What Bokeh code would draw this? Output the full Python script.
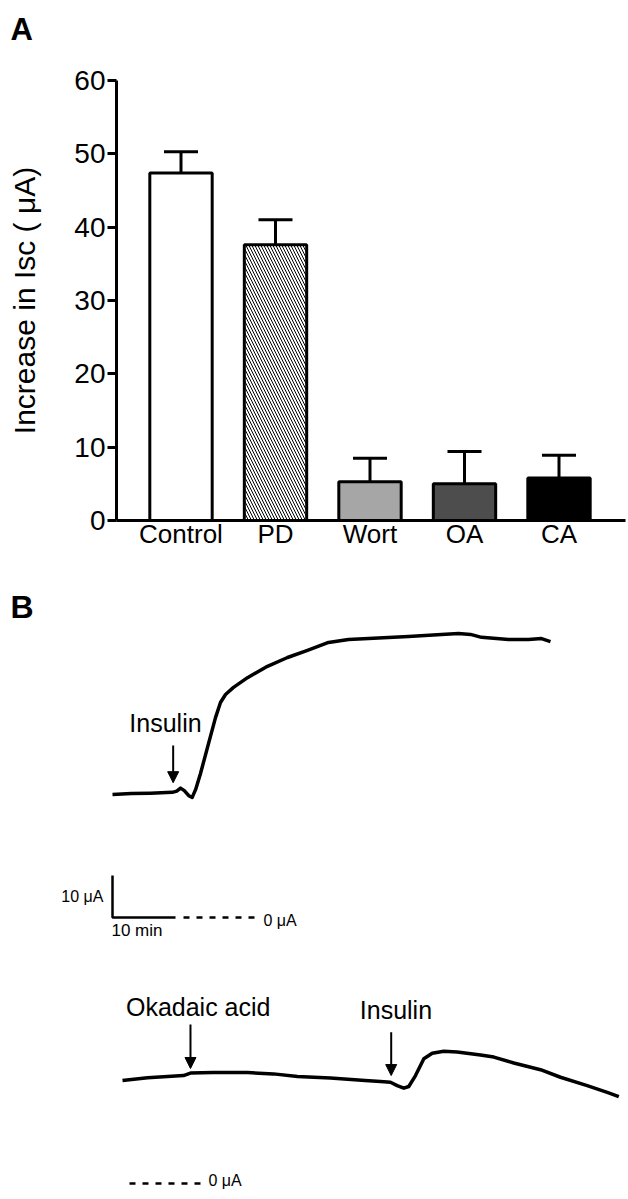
from bokeh.plotting import figure
from bokeh.layouts import column
from bokeh.models import Range1d, FixedTicker, Label, Arrow, NormalHead, ColumnDataSource
from bokeh.embed import file_html
from bokeh.resources import INLINE

FONT = "Liberation Sans"

# ---------------- Panel A data ----------------
categories = ["Control", "PD", "Wort", "OA", "CA"]
means = [47.4, 37.6, 5.3, 5.0, 5.8]
sems = [2.9, 3.4, 3.2, 4.4, 3.1]
bar_colors = ["#ffffff", "#ffffff", "#a6a6a6", "#4d4d4d", "#000000"]
bar_hatch = [" ", "\\", " ", " ", " "]
y_ticks = [0, 10, 20, 30, 40, 50, 60]

# ---------------- Panel B data ----------------
# top trace: insulin alone (time in min, current in uA)
t_top = [0, 3, 6, 9.5, 10.2, 10.8, 11.4, 12.1, 12.65, 13.2, 13.97, 15.24, 16.35,
         17.14, 17.94, 19.21, 21.43, 24.6, 27.78, 30.95, 34.29, 37.46, 40.63,
         46.98, 52.22, 54.92, 56.83, 58.57, 62.86, 66.03, 68.1, 69.52]
i_top = [29.3, 29.5, 29.6, 29.8, 30.1, 30.8, 30.2, 29.0, 28.6, 30.5, 34.3, 41.4, 47.6,
         51.2, 53.1, 54.8, 57.1, 59.8, 61.9, 63.6, 65.5, 66.2, 66.4,
         66.9, 67.4, 67.6, 67.4, 66.7, 66.2, 66.2, 66.4, 65.7]
# bottom trace: okadaic acid then insulin
t_bot = [0, 3.97, 7.14, 9.68, 10.79, 14.44, 19.84, 23.97, 27.78, 33.0, 38.5, 40.95,
         42.54, 43.6, 44.65, 45.44, 46.51, 47.83, 49.16, 51.0, 53.13, 56.83, 58.94,
         62.11, 66.35, 69.52, 73.76, 76.94, 78.78]
i_bot = [24.5, 25.2, 25.5, 25.7, 26.3, 26.4, 26.4, 26.1, 25.5, 25.1, 24.5, 24.3,
         24.1, 23.3, 22.7, 23.1, 25.7, 29.7, 31.0, 31.5, 31.3, 30.6, 30.1,
         28.7, 27.1, 25.3, 23.3, 21.7, 20.7]
scale_uA = 10
scale_min = 10

W = 628
HEAD_H = 58


def lab(p, x, y, text, size, align="left", bold=False):
    p.add_layout(Label(x=x, y=y, text=text, text_font=FONT, text_font_size=size,
                       text_align=align, text_baseline="middle",
                       text_font_style="bold" if bold else "normal", text_color="black"))


# ================= header strip with panel letter A =================
pH = figure(width=W, height=HEAD_H, x_range=Range1d(0, W), y_range=Range1d(0, HEAD_H),
            x_axis_type=None, y_axis_type=None, output_backend="svg", toolbar_location=None,
            min_border=0, min_border_left=0, min_border_right=0, min_border_top=0,
            min_border_bottom=0, frame_align=False)
pH.outline_line_color = None
pH.grid.visible = False
lab(pH, 10, HEAD_H - 29, "A", "31px", bold=True)

# ================= Figure A =================
PX_PER_CAT = 94.5
FRAME_W = W - 116 - 3
x0 = -64.5 / PX_PER_CAT
pA = figure(width=W, height=568 - HEAD_H, x_range=Range1d(x0, x0 + FRAME_W / PX_PER_CAT),
            y_range=Range1d(0, 60), output_backend="svg", toolbar_location=None,
            min_border_left=116, min_border_right=3, min_border_top=80 - HEAD_H,
            min_border_bottom=48, frame_align=False)
pA.grid.visible = False
pA.outline_line_color = None

xs = list(range(len(categories)))
tops = [m + s for m, s in zip(means, sems)]
cap_w = 0.18
pA.segment(x0=xs, y0=means, x1=xs, y1=tops, line_color="black", line_width=3)
pA.segment(x0=[x - cap_w for x in xs], y0=tops, x1=[x + cap_w for x in xs], y1=tops,
           line_color="black", line_width=3)
src = ColumnDataSource(dict(x=xs, top=means, color=bar_colors, hatch=bar_hatch))
pA.vbar(x="x", top="top", width=0.66, source=src, fill_color="color", line_color="black",
        line_width=3, hatch_pattern="hatch", hatch_color="black", hatch_scale=6, hatch_weight=1)

xa = pA.xaxis[0]
xa.ticker = FixedTicker(ticks=xs)
xa.major_label_overrides = {i: c for i, c in enumerate(categories)}
xa.major_tick_out = 0
xa.major_tick_in = 0
xa.minor_tick_out = 0
xa.minor_tick_in = 0
xa.axis_line_width = 3
xa.major_label_standoff = -2
xa.major_label_text_font = FONT
xa.major_label_text_font_size = "26px"
xa.major_label_text_color = "black"

ya = pA.yaxis[0]
ya.ticker = FixedTicker(ticks=y_ticks)
ya.major_tick_out = 9
ya.major_tick_in = 0
ya.minor_tick_out = 0
ya.minor_tick_in = 0
ya.major_tick_line_width = 3
ya.axis_line_width = 3
ya.major_label_standoff = 2
ya.major_label_text_font = FONT
ya.major_label_text_font_size = "28px"
ya.major_label_text_color = "black"
ya.axis_label = "Increase in Isc ( \u03bcA)"
ya.axis_label_text_font = FONT
ya.axis_label_text_font_size = "30px"
ya.axis_label_text_font_style = "normal"
ya.axis_label_text_color = "black"
ya.axis_label_standoff = 30

PX_PER_MIN = 6.3
PX_PER_UA = 4.2


def trace_fig(height, t_zero_px, zero_from_bottom_px):
    xr0 = -t_zero_px / PX_PER_MIN
    yr0 = -zero_from_bottom_px / PX_PER_UA
    p = figure(width=W, height=height, x_range=Range1d(xr0, xr0 + W / PX_PER_MIN),
               y_range=Range1d(yr0, yr0 + height / PX_PER_UA), x_axis_type=None,
               y_axis_type=None, output_backend="svg", toolbar_location=None,
               min_border=0, min_border_left=0, min_border_right=0, min_border_top=0,
               min_border_bottom=0, frame_align=False)
    p.outline_line_color = None
    p.grid.visible = False
    return p


def arrow(p, x, y_from, y_to):
    p.add_layout(Arrow(end=NormalHead(size=11, fill_color="black", line_color="black"),
                       x_start=x, y_start=y_from, x_end=x, y_end=y_to,
                       line_color="black", line_width=2))


# ================= Figure B1 =================
pB1 = trace_fig(382, 112, 33)
pB1.line(t_top, i_top, line_color="black", line_width=3.5, line_join="round")
pB1.line([0, 0, scale_min], [scale_uA, 0, 0], line_color="black", line_width=2.5)
pB1.line([scale_min + 1.27, scale_min + 12.7], [0, 0], line_color="black", line_width=2.5,
         line_dash="6 7")
lab(pB1, scale_min + 13.97, -0.7, "0 \u03bcA", "16px")
lab(pB1, -1.43, scale_uA / 2 + 0.1, "10 \u03bcA", "16px", align="right")
lab(pB1, -0.16, -3.2, "10 min", "17px")
lab(pB1, 8.41, 46.2, "Insulin", "25px", align="center")
arrow(pB1, 9.63, 40.95, 32.1)
lab(pB1, -16.19, 73.9, "B", "32px", bold=True)

# ================= Figure B2 =================
pB2 = trace_fig(249, 122, 16)
pB2.line(t_bot, i_bot, line_color="black", line_width=3.5, line_join="round")
pB2.line([1.11, 12.4], [0, 0], line_color="black", line_width=2.5, line_dash="6 7")
lab(pB2, 13.65, 0.6, "0 \u03bcA", "16px")
lab(pB2, 12.02, 42.0, "Okadaic acid", "25px", align="center")
arrow(pB2, 10.79, 37.86, 27.38)
lab(pB2, 43.4, 41.4, "Insulin", "25px", align="center")
arrow(pB2, 42.65, 36.0, 25.7)

layout = column(pH, pA, pB1, pB2)
open("out.html", "w").write(file_html(layout, INLINE))
